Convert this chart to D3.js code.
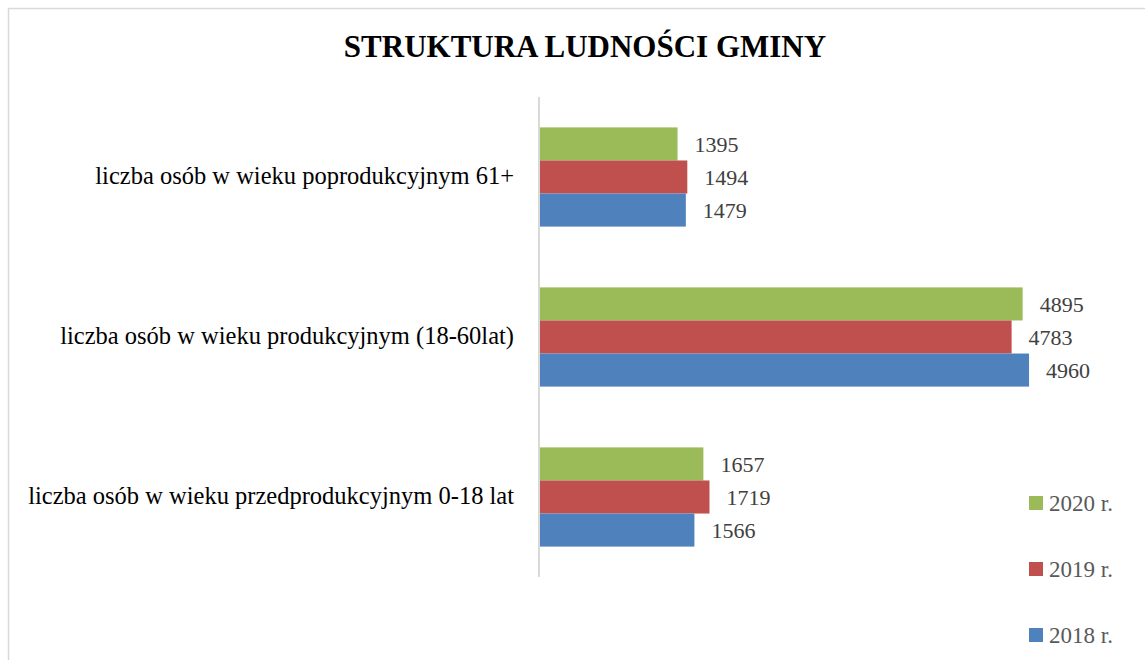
<!DOCTYPE html>
<html>
<head>
<meta charset="utf-8">
<script src="https://cdn.jsdelivr.net/npm/d3@7"></script>
<style>
    html, body { margin: 0; padding: 0; background: #fff; }
    svg { display: block; }
    text { font-family: "Liberation Serif", "DejaVu Serif", serif; }
</style>
</head>
<body>
<div id="chart"></div>
<script>
// categories, top to bottom as drawn
const categories = [
    'liczba osób w wieku poprodukcyjnym 61+',
    'liczba osób w wieku produkcyjnym (18-60lat)',
    'liczba osób w wieku przedprodukcyjnym 0-18 lat'
];

// series, in the order they stack inside each group (top to bottom)
const years = ['2020 r.', '2019 r.', '2018 r.'];
const colors = ['#9bbb59', '#c0504d', '#4f81bd'];

const values2020 = [1395, 4895, 1657];
const values2019 = [1494, 4783, 1719];
const values2018 = [1479, 4960, 1566];

const seriesValues = [values2020, values2019, values2018];

const width = 1145, height = 660;

let svg = d3.select('#chart')
    .append('svg')
    .attr('width', width)
    .attr('height', height);

// frame of the chart area (runs off the right/bottom edge)
svg.append('rect')
    .attr('x', 8.5)
    .attr('y', 8.5)
    .attr('width', 1300)
    .attr('height', 800)
    .attr('fill', 'none')
    .attr('stroke', '#d9d9d9')
    .attr('stroke-width', 1.5);

svg.append('text')
    .attr('x', 585)
    .attr('y', 57)
    .attr('text-anchor', 'middle')
    .attr('font-size', 31)
    .attr('font-weight', 'bold')
    .attr('fill', '#000')
    .text('STRUKTURA LUDNOŚCI GMINY');

let x = d3.scaleLinear()
    .domain([0, 5000])
    .range([540, 1033]);

let y = d3.scaleBand()
    .domain(categories)
    .range([97, 577])
    .paddingInner(0.38)
    .paddingOuter(0.19);

let yInner = d3.scaleBand()
    .domain(years)
    .range([0, y.bandwidth()]);

// rows: one per category
let rows = categories.map((c, i) => ({
    category: c,
    bars: years.map((yr, j) => ({ year: yr, value: seriesValues[j][i], color: colors[j] }))
}));

let group = svg.selectAll('.group')
    .data(rows)
    .enter()
    .append('g')
    .attr('class', 'group')
    .attr('transform', d => 'translate(0,' + y(d.category) + ')');

group.selectAll('rect')
    .data(d => d.bars)
    .enter()
    .append('rect')
    .attr('x', x(0))
    .attr('y', d => yInner(d.year))
    .attr('width', d => x(d.value) - x(0))
    .attr('height', yInner.bandwidth())
    .attr('fill', d => d.color);

group.selectAll('.value')
    .data(d => d.bars)
    .enter()
    .append('text')
    .attr('class', 'value')
    .attr('x', d => x(d.value) + 17)
    .attr('y', d => yInner(d.year) + yInner.bandwidth() / 2)
    .attr('dy', '0.35em')
    .attr('font-size', 22)
    .attr('fill', '#404040')
    .text(d => d.value);

// category labels
svg.selectAll('.cat')
    .data(categories)
    .enter()
    .append('text')
    .attr('class', 'cat')
    .attr('x', 514)
    .attr('y', d => y(d) + y.bandwidth() / 2)
    .attr('dy', '0.3em')
    .attr('text-anchor', 'end')
    .attr('font-size', 24.5)
    .attr('fill', '#000')
    .text(d => d);

// vertical axis line
svg.append('line')
    .attr('x1', 539)
    .attr('x2', 539)
    .attr('y1', 97)
    .attr('y2', 577)
    .attr('stroke', '#d9d9d9')
    .attr('stroke-width', 2);

// legend
let legend = svg.selectAll('.legend')
    .data(years)
    .enter()
    .append('g')
    .attr('class', 'legend')
    .attr('transform', (d, i) => 'translate(1029,' + (503 + i * 66) + ')');

legend.append('rect')
    .attr('x', 0)
    .attr('y', -7)
    .attr('width', 14)
    .attr('height', 14)
    .attr('fill', (d, i) => colors[i]);

legend.append('text')
    .attr('x', 20)
    .attr('y', 0)
    .attr('dy', '0.35em')
    .attr('font-size', 23)
    .attr('fill', '#595959')
    .text(d => d);
</script>
</body>
</html>
